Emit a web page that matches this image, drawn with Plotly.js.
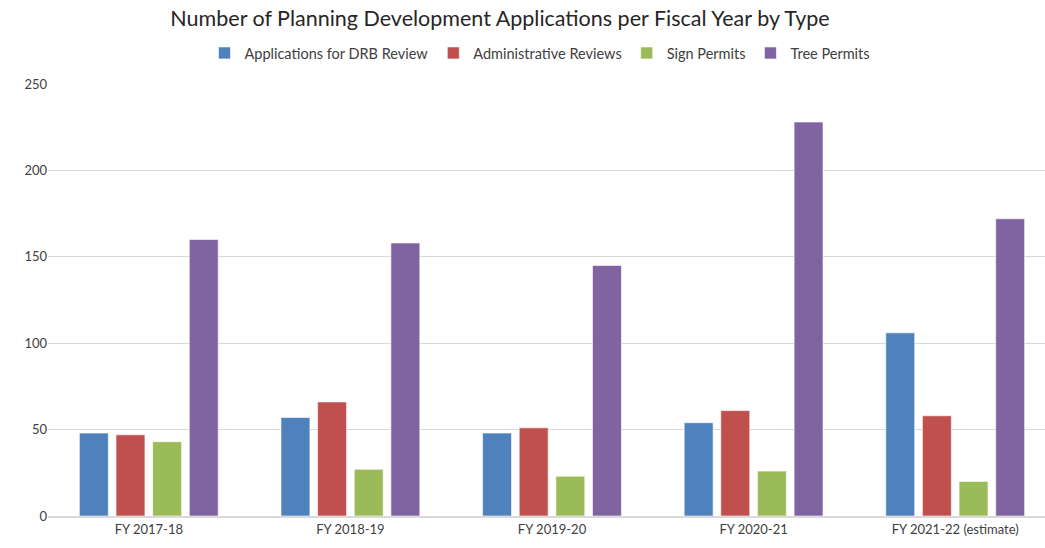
<!DOCTYPE html>
<html>
<head>
<meta charset="utf-8">
<script src="https://cdn.plot.ly/plotly-3.0.1.min.js"></script>
<style>html,body{margin:0;padding:0;overflow:hidden;background:#fff;}</style>
</head>
<body>
<div id="chart"></div>
<script>
const categories = ["FY 2017-18", "FY 2018-19", "FY 2019-20", "FY 2020-21", "FY 2021-22 (estimate)"];
const drbReview = [48, 57, 48, 54, 106];
const adminReviews = [47, 66, 51, 61, 58];
const signPermits = [43, 27, 23, 26, 20];
const treePermits = [160, 158, 145, 228, 172];
const seriesNames = ["Applications for DRB Review", "Administrative Reviews", "Sign Permits", "Tree Permits"];
const colors = ["#4F81BD", "#C0504D", "#9BBB59", "#8064A2"];
const yTicks = [0, 50, 100, 150, 200, 250];

const values = [drbReview, adminReviews, signPermits, treePermits];
const traces = values.map((v, i) => ({
  type: "bar",
  name: seriesNames[i],
  x: categories,
  y: v,
  marker: {color: colors[i], line: {color: "rgba(255,255,255,0.6)", width: 1}},
  hoverinfo: "x+y+name"
}));

const W = 1056;
const layout = {
  width: W,
  height: 548,
  margin: {l: 48, r: 0, t: 84, b: 32},
  paper_bgcolor: "#ffffff",
  plot_bgcolor: "#ffffff",
  font: {family: "Lato, 'Open Sans', sans-serif", color: "#595959", size: 13},
  title: {
    text: "Number of Planning Development Applications per Fiscal Year by Type",
    font: {size: 21.5, color: "#262626", family: "Lato, 'Open Sans', sans-serif"},
    xref: "container", x: 500 / W, xanchor: "center",
    yref: "container", y: 1 - 18 / 548, yanchor: "middle"
  },
  barmode: "group",
  bargap: 0.273,
  bargroupgap: 0.21,
  showlegend: true,
  legend: {
    orientation: "h",
    xref: "container", x: 540 / W, xanchor: "center",
    yref: "container", y: 1 - 53 / 548, yanchor: "middle",
    font: {size: 14.5, color: "#404040"},
    itemwidth: 30,
    traceorder: "normal"
  },
  xaxis: {
    type: "category",
    showgrid: false,
    showline: true,
    linecolor: "#d9d9d9",
    linewidth: 2,
    ticks: "",
    tickfont: {size: 13, color: "#404040"},
    fixedrange: true
  },
  yaxis: {
    range: [0, 250],
    tickvals: yTicks,
    showgrid: true,
    gridcolor: "#d9d9d9",
    gridwidth: 1,
    zeroline: false,
    showline: false,
    ticks: "",
    ticklabelstandoff: 0,
    tickfont: {size: 13, color: "#404040"},
    fixedrange: true
  }
};

Plotly.newPlot("chart", traces, layout, {displayModeBar: false, staticPlot: true});
</script>
</body>
</html>
